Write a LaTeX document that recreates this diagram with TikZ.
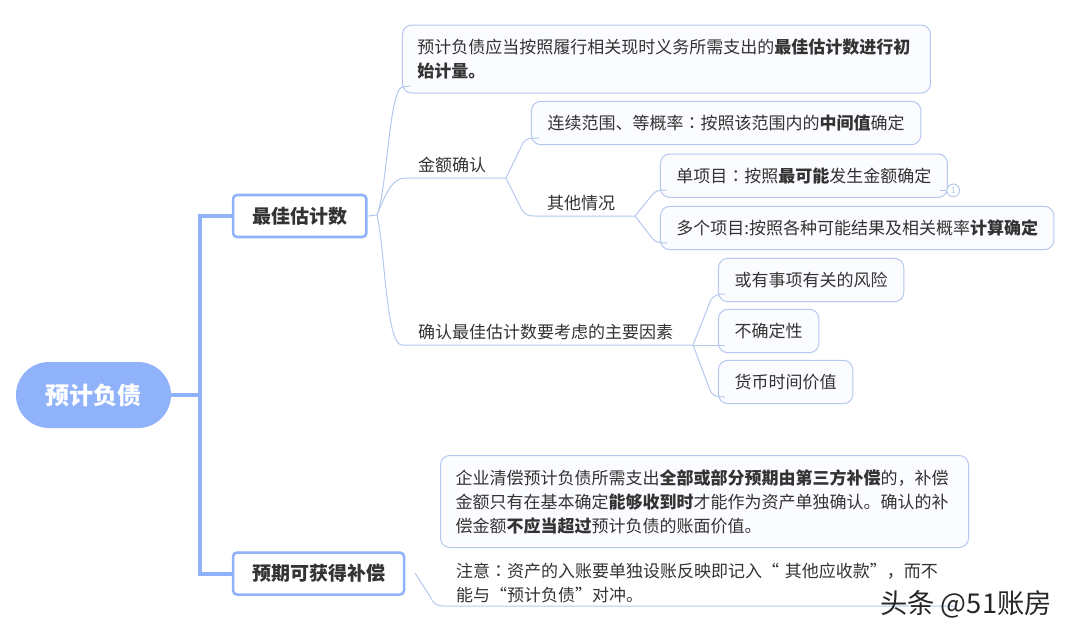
\documentclass[tikz,border=0pt]{standalone}
\usepackage{fontspec}
\setmainfont{Noto Sans CJK SC}
\newfontfamily\tcfont{Noto Sans CJK TC}
\providecommand{\mc}{{\tcfont ：}}
\usetikzlibrary{positioning}

\definecolor{mainblue}{HTML}{8FB2FA}
\definecolor{thinblue}{HTML}{B4C8EF}
\definecolor{leaffill}{HTML}{FBFCFF}
\definecolor{inktext}{HTML}{333333}

\tikzset{
  rootnode/.style={rounded corners=24.7pt, fill=mainblue, text=white, font=\fontsize{18pt}{20pt}\bfseries,
    minimum width=116.25pt, minimum height=49.5pt, inner sep=0pt},
  topicbox/.style={draw=mainblue, line width=1.9pt, rounded corners=3pt, fill=white, text=inktext,
    font=\fontsize{14.25pt}{17pt}\bfseries, minimum height=31.5pt, inner sep=0pt},
  leafbox/.style={draw=thinblue, line width=0.75pt, rounded corners=7pt, fill=leaffill, text=inktext,
    font=\fontsize{12.75pt}{18pt}\selectfont, inner xsep=11.25pt, inner ysep=0pt, minimum height=32.5pt, align=left},
  plainlabel/.style={text=inktext, font=\fontsize{12.75pt}{18pt}\selectfont, inner sep=0pt, align=left},
  thick link/.style={draw=mainblue, line width=3pt},
  thin link/.style={draw=thinblue, line width=0.75pt},
  badge/.style={circle, draw=thinblue, line width=0.75pt, fill=white, text=thinblue, minimum size=9.5pt, inner sep=0pt,
    font=\fontsize{6.5pt}{6.5pt}\selectfont},
}

\begin{document}
\begin{tikzpicture}[x=0.75pt, y=-0.75pt]
\useasboundingbox (0,0) rectangle (1070,636);

% Main nodes
\node[rootnode]                       (root) at (93.5,395) {预计负债};
\node[topicbox, minimum width=100pt]  (best) at (299.7,216) {最佳估计数};
\node[topicbox, minimum width=128.25pt, below=234.75pt of best.south west, anchor=north west] (comp) {预期可获得补偿};

% Leaves of the first topic
\node[leafbox, text width=373.5pt, minimum height=51pt, right=25.75pt of best.east, anchor=west, yshift=117.75pt] (initial)
  {预计负债应当按照履行相关现时义务所需支出的\textbf{最佳估计数进行初}\\\textbf{始计量。}};
\node[plainlabel, below right=53.25pt and 12pt of initial.south west, anchor=west] (amount) {金额确认};
\node[plainlabel, below=126pt of amount.west, anchor=west] (factors) {确认最佳估计数要考虑的主要因素};
\node[leafbox, minimum width=292pt, below right=5.5pt and 96.75pt of initial.south west, anchor=north west] (range)
  {连续范围、等概率\mc 按照该范围内的\textbf{中间值}确定};
\node[plainlabel, right=96.75pt of amount.west, anchor=west, yshift=-29.25pt] (other) {其他情况};
\node[leafbox, minimum width=215.25pt, below right=6.25pt and 96.75pt of range.south west, anchor=north west] (single)
  {单项目\mc 按照\textbf{最可能}发生金额确定};
\node[leafbox, minimum width=295pt, below=6pt of single.south west, anchor=north west] (multi)
  {多个项目:按照各种可能结果及相关概率\textbf{计算确定}};
\node[badge, right=-1.2pt of single.east, yshift=-11pt] (mark) {1};
\node[leafbox, minimum width=139pt, below right=5.75pt and 43.5pt of multi.south west, anchor=north west] (risk) {或有事项有关的风险};
\node[leafbox, minimum width=75.25pt, below=5pt of risk.south west, anchor=north west] (uncertain) {不确定性};
\node[leafbox, minimum width=100.75pt, below=5pt of uncertain.south west, anchor=north west] (timeval) {货币时间价值};

% Leaves of the second topic
\node[leafbox, text width=373.5pt, minimum height=69pt, anchor=north west] (claim) at (440,455)
  {企业清偿预计负债所需支出\textbf{全部或部分预期由第三方补偿}的，补偿\\金额只有在基本确定\textbf{能够收到时}才能作为资产单独确认。确认的补\\偿金额\textbf{不应当超过}预计负债的账面价值。};
\node[plainlabel, text width=372pt, right=38pt of comp.east, yshift=-6.75pt] (note)
  {注意\mc 资产的入账要单独设账反映即记入“ 其他应收款”，而不\\能与“预计负债”对冲。};

% Anchors for the links
\coordinate (trunk) at (200,395);
\coordinate (bestfork) at (377,215);
\coordinate (amountfork) at (506,178);
\coordinate (otherfork) at (635,216);
\coordinate (factorfork) at (693,345);
\coordinate (compfork) at (415,573);
\coordinate (noteend) at (957,606);

% Thick links
\draw[thick link] (root.east) -- (trunk);
\draw[thick link] (best.west) -- (trunk |- best.west) -- (trunk |- comp.west) -- (comp.west);

% Thin links
\draw[thin link] (best.east) -- (bestfork);
\draw[thin link] (bestfork) .. controls (387,190) and (389,92) .. (402,87) -- (410,86);
\draw[thin link] (bestfork) .. controls (385,195) and (392,178) .. (405,178) -- (amountfork);
\draw[thin link] (bestfork) .. controls (385,250) and (386,345) .. (402,345) -- (factorfork);
\draw[thin link] (amountfork) -- (523,143) .. controls (526,138) and (530,138) .. (539,138);
\draw[thin link] (amountfork) -- (521,208) .. controls (525,216) and (530,216) .. (535,216) -- (otherfork);
\draw[thin link] (otherfork) -- (652,195) .. controls (656,190) and (660,190) .. (667,190);
\draw[thin link] (otherfork) -- (652,238) .. controls (656,243) and (660,243) .. (667,243);
\draw[thin link] (factorfork) -- (710,302) .. controls (713,295) and (718,294) .. (725,294);
\draw[thin link] (factorfork) -- (725,345);
\draw[thin link] (factorfork) -- (710,390) .. controls (713,397) and (718,397) .. (725,397);
\draw[thin link] (single.east |- mark) ++(-8,0) -- (mark.west);
\draw[thin link] (compfork) -- (431,598) .. controls (434,605) and (438,606) .. (445,606) -- (noteend);

% Watermark
\node[text=black!85, font=\fontsize{20.5pt}{22pt}\selectfont, inner sep=0pt] (watermark) at (966,604) {头条 @51账房};
\end{tikzpicture}
\end{document}
